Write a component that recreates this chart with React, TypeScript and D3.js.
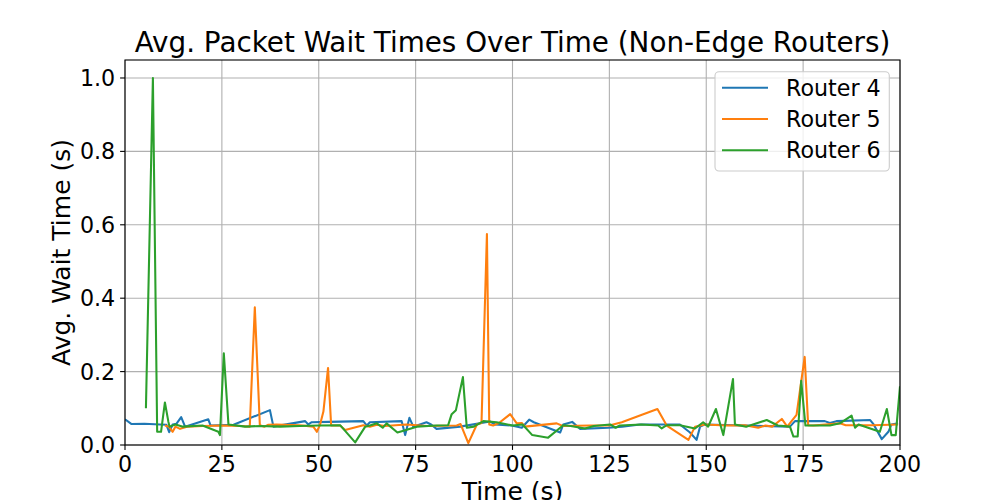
import React from "react";
import * as d3 from "d3";

const title = "Avg. Packet Wait Times Over Time (Non-Edge Routers)";
const xLabel = "Time (s)";
const yLabel = "Avg. Wait Time (s)";
const xTicks = [0, 25, 50, 75, 100, 125, 150, 175, 200];
const yTicks = [0.0, 0.2, 0.4, 0.6, 0.8, 1.0];
const seriesNames = ["Router 4", "Router 5", "Router 6"];
const seriesColors = ["#1f77b4", "#ff7f0e", "#2ca02c"];

const r4T = [0, 1.7, 5, 9, 10.7, 11.4, 12.3, 13.3, 14.5, 15.5, 21.5, 22.1, 28, 37.4, 38.3, 46.5, 47.3, 48.2, 52.5, 61.5, 62.4, 63.2, 71.4, 72.3, 73.4, 74.4, 77.8, 79, 80.4, 86.5, 94.2, 95.5, 99.8, 102.4, 104.3, 105.5, 112.3, 113.1, 115.4, 117.4, 124.7, 128.3, 132.9, 143.2, 145.8, 147.5, 148.4, 149.6, 160.3, 171.6, 172.9, 180.6, 181.9, 183.6, 192.3, 193.2, 195.3, 197, 197.8, 199.5];
const r4V = [0.07, 0.057, 0.058, 0.056, 0.055, 0.035, 0.056, 0.058, 0.076, 0.05, 0.07, 0.053, 0.055, 0.095, 0.05, 0.065, 0.056, 0.062, 0.063, 0.065, 0.053, 0.062, 0.065, 0.027, 0.074, 0.05, 0.062, 0.056, 0.044, 0.05, 0.064, 0.056, 0.053, 0.047, 0.069, 0.062, 0.034, 0.056, 0.063, 0.044, 0.047, 0.05, 0.056, 0.056, 0.034, 0.014, 0.05, 0.056, 0.053, 0.05, 0.065, 0.065, 0.06, 0.065, 0.068, 0.056, 0.016, 0.036, 0.056, 0.059];

const r5T = [10.3, 11.3, 12.3, 13, 14.2, 16, 20, 25, 30, 32.2, 33.5, 34.8, 36, 37, 39.1, 45, 48.6, 49.5, 50.3, 51.2, 52.4, 53.2, 55.5, 56.8, 61.5, 63.2, 65, 67, 72.6, 78, 85.6, 86.6, 88.6, 90.8, 92, 93.4, 94, 95, 96.5, 99.4, 101.1, 102.4, 103.2, 111.4, 113, 120, 125, 128.2, 137.4, 139.8, 145.4, 147.1, 149.6, 155, 160, 163.4, 165.3, 167, 169.5, 170.9, 173.3, 175.4, 176.3, 177.6, 184.5, 186, 192.8, 199.5];
const r5V = [0.053, 0.05, 0.036, 0.05, 0.044, 0.05, 0.052, 0.053, 0.052, 0.05, 0.375, 0.054, 0.05, 0.055, 0.056, 0.054, 0.05, 0.036, 0.054, 0.091, 0.21, 0.053, 0.053, 0.041, 0.054, 0.05, 0.055, 0.052, 0.056, 0.052, 0.053, 0.057, 0.005, 0.056, 0.06, 0.575, 0.056, 0.053, 0.06, 0.084, 0.059, 0.06, 0.05, 0.059, 0.052, 0.053, 0.053, 0.062, 0.098, 0.053, 0.014, 0.05, 0.056, 0.053, 0.054, 0.047, 0.053, 0.05, 0.071, 0.05, 0.082, 0.24, 0.054, 0.053, 0.059, 0.054, 0.054, 0.056];

const r6T = [5.4, 7.2, 8.3, 9.3, 10.3, 11.2, 11.5, 13, 15, 20, 24.1, 24.5, 25.5, 26.7, 31, 35, 40, 45, 50, 55.5, 59.4, 62, 63.2, 65, 66.5, 67.5, 70.3, 72.3, 75.3, 80.4, 83.4, 84.3, 85.4, 87.2, 88.2, 90, 92.5, 95.9, 100, 102.6, 105.1, 109.2, 113.1, 115, 118.7, 121, 125.2, 126.6, 127.7, 133.3, 137.6, 138.5, 139.8, 143.2, 147.1, 149.2, 150.5, 152.5, 154.4, 156.9, 157.4, 160.3, 165.6, 168.5, 171.6, 172.5, 173.6, 174.5, 175.6, 181.9, 184.5, 187.5, 188.4, 189.3, 194.8, 196.6, 197.8, 198.9, 200];
const r6V = [0.1, 1.0, 0.036, 0.036, 0.116, 0.063, 0.05, 0.056, 0.05, 0.053, 0.036, 0.027, 0.25, 0.056, 0.05, 0.052, 0.05, 0.052, 0.053, 0.054, 0.007, 0.05, 0.053, 0.059, 0.047, 0.059, 0.034, 0.04, 0.05, 0.053, 0.054, 0.084, 0.095, 0.185, 0.047, 0.05, 0.065, 0.062, 0.053, 0.056, 0.027, 0.02, 0.054, 0.052, 0.045, 0.052, 0.056, 0.047, 0.053, 0.056, 0.053, 0.045, 0.054, 0.054, 0.045, 0.062, 0.05, 0.098, 0.027, 0.18, 0.056, 0.05, 0.068, 0.053, 0.05, 0.023, 0.023, 0.175, 0.053, 0.053, 0.059, 0.08, 0.047, 0.056, 0.036, 0.098, 0.027, 0.027, 0.16];

const seriesT = [r4T, r5T, r6T];
const seriesV = [r4V, r5V, r6V];

const W = 1000;
const H = 500;
const M = { left: 125, right: 900, top: 60, bottom: 445 };
const FONT = "DejaVu Sans, sans-serif";

export default function App() {
  const x = d3.scaleLinear().domain([0, 200]).range([M.left, M.right]);
  const y = d3.scaleLinear().domain([0, 1.049]).range([M.bottom, M.top]);
  const line = d3
    .line<[number, number]>()
    .x((d) => x(d[0]))
    .y((d) => y(d[1]));

  const legendRows = [87.7, 119, 150.3];

  return (
    <svg
      width={W}
      height={H}
      style={{ position: "absolute", left: 0, top: 0, display: "block", background: "#fff" }}
      fontFamily={FONT}
    >
      <rect x={0} y={0} width={W} height={H} fill="#fff" />
      <defs>
        <clipPath id="plotclip">
          <rect x={M.left} y={M.top} width={M.right - M.left} height={M.bottom - M.top} />
        </clipPath>
      </defs>
      {/* grid */}
      {xTicks.map((t) => (
        <line key={"gx" + t} x1={x(t)} x2={x(t)} y1={M.top} y2={M.bottom} stroke="#b0b0b0" strokeWidth={1.1} />
      ))}
      {yTicks.map((t) => (
        <line key={"gy" + t} x1={M.left} x2={M.right} y1={y(t)} y2={y(t)} stroke="#b0b0b0" strokeWidth={1.1} />
      ))}
      {/* lines */}
      <g clipPath="url(#plotclip)">
        {seriesT.map((ts, i) => (
          <path
            key={"s" + i}
            d={line(ts.map((t, j) => [t, seriesV[i][j]] as [number, number])) || ""}
            fill="none"
            stroke={seriesColors[i]}
            strokeWidth={2.08}
            strokeLinejoin="round"
            strokeLinecap="butt"
          />
        ))}
      </g>
      {/* spines */}
      <rect
        x={M.left}
        y={M.top}
        width={M.right - M.left}
        height={M.bottom - M.top}
        fill="none"
        stroke="#000"
        strokeWidth={1.1}
      />
      {/* x ticks */}
      {xTicks.map((t) => (
        <g key={"xt" + t}>
          <line x1={x(t)} x2={x(t)} y1={M.bottom} y2={M.bottom + 4.9} stroke="#000" strokeWidth={1.1} />
          <text x={x(t)} y={M.bottom + 26.5} textAnchor="middle" fontSize={22.2} fill="#000">
            {String(t)}
          </text>
        </g>
      ))}
      {/* y ticks */}
      {yTicks.map((t) => (
        <g key={"yt" + t}>
          <line x1={M.left - 4.9} x2={M.left} y1={y(t)} y2={y(t)} stroke="#000" strokeWidth={1.1} />
          <text x={M.left - 9.8} y={y(t) + 8} textAnchor="end" fontSize={22.2} fill="#000">
            {t.toFixed(1)}
          </text>
        </g>
      ))}
      {/* labels */}
      <text x={(M.left + M.right) / 2} y={52} textAnchor="middle" fontSize={27.8} fill="#000">
        {title}
      </text>
      <text x={(M.left + M.right) / 2} y={500} textAnchor="middle" fontSize={25} fill="#000">
        {xLabel}
      </text>
      <text
        transform={`translate(70, ${(M.top + M.bottom) / 2}) rotate(-90)`}
        textAnchor="middle"
        fontSize={25}
        fill="#000"
      >
        {yLabel}
      </text>
      {/* legend */}
      <rect x={715} y={71.7} width={174.3} height={99.3} rx={4} ry={4} fill="#fff" fillOpacity={0.8} stroke="#cccccc" strokeWidth={1.1} />
      {seriesNames.map((name, i) => (
        <g key={"lg" + i}>
          <line x1={722} x2={768} y1={legendRows[i]} y2={legendRows[i]} stroke={seriesColors[i]} strokeWidth={2.08} />
          <text x={786} y={legendRows[i] + 8} fontSize={22.2} fill="#000">
            {name}
          </text>
        </g>
      ))}
    </svg>
  );
}
